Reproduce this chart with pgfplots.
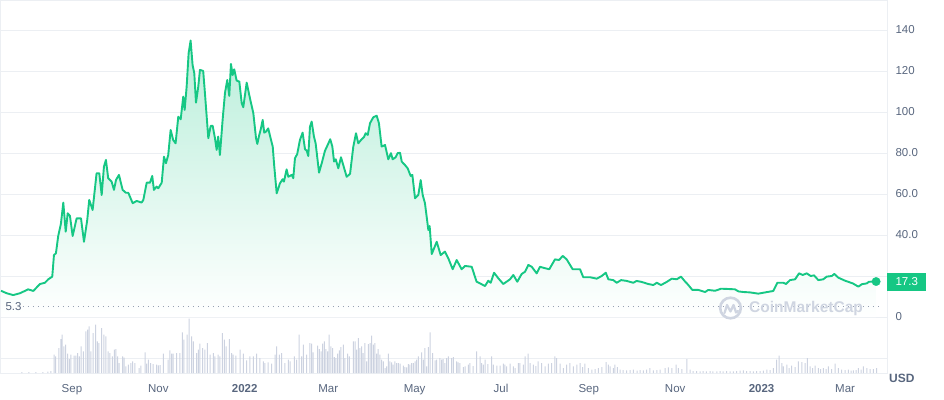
\documentclass[border=0pt]{standalone}
\usepackage{pgfplots}
\usepackage{pgfplotstable}
\pgfplotsset{compat=1.18}
\usepackage{fontspec}
\setmainfont{Liberation Sans}
\definecolor{cmcgreen}{RGB}{22,199,132}
\definecolor{labgray}{RGB}{88,102,126}
\definecolor{gridgray}{RGB}{236,239,243}
\definecolor{volgray}{RGB}{204,210,224}
\definecolor{wmgray}{RGB}{207,213,225}
\definecolor{dotgray}{RGB}{150,160,178}

\pgfplotstableread{
d p
-50.1 12.8
-46.1 11.6
-41.5 10.7
-36.7 11.6
-30.9 13.5
-27.3 12.7
-22.6 16.1
-19.1 16.7
-16.7 18.4
-13.9 19.7
-12.7 30.2
-11.3 31.1
-9.7 39.5
-7.8 45.4
-6.1 55.8
-4.4 41.6
-3.0 50.6
-1.4 49.3
0.5 39.5
3.3 48.1
6.4 48.1
8.5 36.7
10.8 47.3
12.2 57.1
14.6 52.2
17.4 70.1
19.3 70.1
21.0 59.5
22.6 73.3
24.0 76.6
25.6 67.7
28.0 66.0
29.7 62.0
31.1 66.8
33.2 69.3
35.8 62.0
38.1 60.6
39.8 60.6
42.9 55.5
45.7 56.6
49.2 55.8
50.4 57.1
52.8 65.5
55.1 65.5
56.7 68.8
57.9 62.0
59.8 63.6
61.0 62.8
63.4 65.5
65.0 78.2
66.4 75.0
68.0 79.0
69.7 91.2
71.5 86.3
73.2 84.7
75.1 97.7
76.8 96.4
78.6 107.5
79.6 101.0
81.0 112.3
82.4 128.6
83.8 134.8
85.2 122.9
86.4 118.9
87.6 104.5
89.2 112.3
90.4 120.5
92.7 120.0
94.1 107.5
96.3 87.2
98.0 93.2
99.4 93.2
101.0 87.2
102.2 81.5
103.3 88.0
104.5 79.0
106.4 96.1
108.1 109.4
109.7 115.6
111.1 107.8
112.3 123.4
113.5 118.0
114.6 120.8
116.3 115.3
118.2 114.8
119.9 104.2
121.0 102.3
123.4 114.3
125.7 106.7
128.1 99.4
130.0 87.2
130.9 84.4
132.3 88.8
133.5 92.0
134.7 96.1
135.8 89.9
137.0 90.4
138.6 92.0
140.3 87.2
141.8 83.1
142.9 73.3
144.6 60.3
146.9 65.2
148.8 67.2
149.7 66.0
151.6 72.0
152.8 68.4
155.2 69.3
156.3 67.7
157.5 77.4
159.1 79.5
161.0 86.3
162.9 89.9
164.6 81.8
165.8 81.1
166.9 78.5
168.1 92.8
169.3 95.3
170.9 88.0
172.1 84.7
174.5 70.4
176.4 75.0
178.7 81.1
180.6 83.9
182.4 86.7
183.9 83.1
185.1 75.8
186.3 76.9
188.1 72.5
190.0 77.9
191.6 74.1
194.0 68.4
196.4 69.8
198.7 83.1
200.6 89.6
202.2 84.7
204.6 86.7
206.2 87.7
207.4 89.6
208.9 88.8
210.5 94.5
212.8 97.4
215.2 98.2
216.8 94.5
218.7 83.1
221.1 83.9
223.4 76.9
225.3 79.9
226.5 76.9
228.6 77.9
230.0 79.9
231.7 80.1
232.9 75.8
235.2 74.1
237.1 72.5
239.2 68.8
240.4 69.3
242.3 57.9
244.6 59.5
246.3 66.8
247.7 59.5
249.3 55.5
251.7 42.4
252.6 44.4
254.1 30.7
257.6 36.7
260.4 30.2
263.4 31.9
265.8 28.6
268.9 23.3
271.7 27.8
275.2 23.3
277.6 24.9
282.3 24.5
285.8 17.2
288.2 16.4
291.7 15.1
294.0 17.7
295.7 16.7
298.1 21.6
301.1 18.9
304.6 16.1
309.4 18.4
311.7 20.5
314.5 17.2
317.6 21.0
320.0 22.1
322.3 25.4
324.7 24.5
328.2 21.3
330.5 24.5
334.1 23.8
337.1 23.3
341.1 28.1
344.0 27.8
346.6 29.8
349.4 28.1
353.6 23.3
358.8 23.3
361.1 19.4
365.9 19.4
370.6 18.7
374.1 20.0
377.0 21.6
378.8 18.4
382.3 18.0
384.7 16.7
387.8 18.0
391.8 17.6
396.4 16.7
398.8 17.6
402.4 17.1
407.0 16.1
410.6 15.6
413.0 16.7
416.0 15.6
420.0 17.1
423.6 18.7
427.1 18.4
430.1 19.7
432.5 17.7
435.3 15.6
438.1 13.2
442.4 13.2
447.1 12.2
449.4 13.2
454.2 12.8
458.4 13.8
462.4 13.7
468.3 13.5
470.6 12.5
474.1 12.2
478.9 12.0
484.7 11.4
489.5 12.0
495.3 12.7
498.2 16.7
502.4 16.7
504.3 16.1
507.1 18.0
510.7 18.4
513.5 21.3
516.1 20.5
518.9 21.3
521.7 20.0
524.1 20.3
527.1 18.0
530.6 18.4
533.0 19.7
536.6 20.0
538.4 21.0
541.2 19.2
546.0 17.7
551.4 16.4
555.4 14.8
557.8 16.0
561.3 16.4
562.9 17.2
567.9 17.3
}\pricedata

\pgfplotstableread{
d v
-35.3 1
-30.4 1
-25.4 1
-20.5 1
-17.0 1.5
-14.8 2
-12.5 18.3
-11.5 16.7
-9.2 25
-7.8 34
-6.9 38.3
-5.7 26.7
-4.4 28.3
-3.0 19.3
-1.9 14
-0.7 18.3
1.6 17.3
2.8 17.3
4.0 20
5.2 16.7
6.4 26.7
8.0 21.7
9.9 41.7
11.1 43.3
12.2 46.7
13.4 21.7
15.0 40
16.7 48.3
17.9 31.7
19.1 30
21.0 45
22.6 38.3
24.0 36.7
25.6 21.7
26.8 20
28.5 16.7
29.9 23.3
31.1 24
32.3 16.7
33.4 10
35.8 16.7
36.9 15.3
38.1 6.7
39.8 8.3
41.7 10
42.9 11.7
44.5 10
47.5 5
48.7 7.3
51.6 20.7
52.8 9.3
53.9 13.3
55.6 10
57.4 9
59.8 8.3
61.0 7.7
62.2 8
64.5 19.3
68.0 13.3
69.2 22.7
70.4 19.3
71.5 19.3
73.9 20
76.3 20
77.9 40.7
79.1 33.3
81.4 38.3
82.8 54.3
84.5 36.7
85.7 31.7
88.1 20
89.2 23.3
90.4 29.3
92.3 25
93.9 23.3
95.6 30
97.5 18.3
99.8 20
101.0 16.7
103.3 18.3
104.5 16.7
106.2 40
107.6 33.3
108.8 26.7
111.1 34
112.8 20
113.9 18.3
115.8 17.3
118.7 23.3
121.0 19.3
123.4 12.7
125.7 16.7
128.1 16.7
130.5 19.3
132.8 15
135.1 11.7
136.3 10
138.6 10.7
141.0 9.3
143.4 18.3
144.6 26.7
146.4 18.3
148.1 20
150.4 10
152.8 13.3
154.0 11.7
157.0 16.7
158.7 13.3
160.5 38.3
162.2 16.7
163.4 28.3
165.8 18.3
168.1 30
169.3 29.3
170.4 20.7
173.5 27.3
174.7 24
175.9 21.7
177.1 29.3
178.2 31.7
179.4 24
180.6 21.7
181.7 38.3
182.9 26.7
184.1 25
185.3 16
186.3 15
187.7 19.3
188.8 22.7
190.0 26
191.6 28.3
192.8 15
194.7 19.3
195.9 16.7
198.7 31.7
199.9 31.7
201.1 23.3
202.2 35
203.4 25
204.6 26.7
205.7 20
206.9 30
208.1 11.7
209.3 29
210.5 30
211.7 37.3
212.8 28.3
214.0 30
215.2 19.3
216.3 24
217.5 18.3
218.7 13.3
219.9 11.7
221.1 5
222.3 6.7
223.4 19.3
224.6 11.7
225.8 10.7
226.9 8.3
228.1 11.7
229.3 10
230.5 10
231.7 9.3
234.0 7.3
235.2 6
236.4 5.7
237.5 9
238.7 8.3
239.9 10
241.1 10
242.3 11.7
243.5 13.3
244.6 16.7
247.0 20.7
248.1 13.3
249.3 25
250.5 6.7
251.7 26
252.9 40.7
254.8 20
256.4 12.7
257.6 13.3
259.9 15
261.1 13.3
262.2 14
263.4 10
264.6 15
265.8 16.7
268.2 15
269.3 16
271.7 11.7
272.8 10.7
274.0 10
276.4 6
277.6 6.7
279.9 8.3
281.1 10
283.4 7
285.8 21.7
288.2 16.7
289.4 10
290.5 8.3
291.7 13.3
293.8 9
296.4 16.7
297.6 8.3
300.0 7.3
302.3 7.3
304.6 9.3
305.8 8.3
307.0 6.7
309.4 9.3
311.7 6.7
312.9 5
315.2 10
316.4 10
318.8 8.3
320.0 16.7
322.1 19.3
323.5 10
325.8 8.3
327.7 7
329.3 11.7
331.7 10
334.1 6.7
336.4 9.3
338.8 10
341.1 16.7
342.3 15
344.7 9.3
347.0 5
349.4 8.3
351.7 10
354.1 6.7
356.5 8.3
358.8 10
360.6 6
362.3 9.3
364.7 5
367.1 3.3
369.4 4
371.7 5
374.3 6
377.2 11
378.8 8.3
380.0 6.7
382.3 5
383.5 8.3
385.1 6
387.1 3.3
389.2 3
391.8 2.7
394.1 3
396.4 3.3
399.1 2.5
401.2 3
403.5 2.7
405.8 3.5
408.2 5
410.6 2.7
413.0 3
415.3 3.3
418.9 5
421.2 5.7
423.6 5
426.6 8.3
428.2 5
430.8 4
434.2 14
436.5 3.3
438.6 2
441.1 2
443.6 1.7
445.7 2
448.1 1.7
450.6 2
452.7 1.7
455.4 1.7
457.7 2
459.8 1.7
462.3 2
464.8 1.7
467.1 1.7
469.4 2
471.8 2.3
474.2 2.7
476.4 2
478.9 2
481.2 1.7
483.5 2
486.0 2
488.3 2.3
490.7 3.3
493.0 3
495.4 5
497.7 13.3
499.4 17.3
501.3 10
502.4 6.7
504.8 8.3
506.4 5
508.3 7.3
510.7 6
513.0 11.7
515.4 11
517.7 10
519.4 15
521.3 6.7
523.0 5
524.8 7.3
527.1 5
528.7 4
530.7 5
532.6 4
534.2 6.7
536.4 4
538.9 9.3
541.2 5
543.6 3.3
546.0 3
548.3 3.3
550.2 2.5
551.8 2.7
553.7 3
555.4 5
557.3 3.5
558.9 6.7
561.3 5
563.6 4
565.9 4
568.3 5
}\volumedata

\begin{document}
\begin{tikzpicture}[x=1pt,y=1pt]
\useasboundingbox (0,0) rectangle (944,399);
% price axis
\begin{axis}[
  at={(1pt,26pt)}, anchor=south west, scale only axis,
  width=886pt, height=372pt,
  xmin=-50.1, xmax=575.6, ymin=-27.3, ymax=154.1,
  axis line style={draw=gridgray, line width=1pt},
  major tick length=0pt,
  ymajorgrids, grid style={draw=gridgray, line width=0.8pt},
  ytick={-20,0,20,40,60,80,100,120,140},
  yticklabels={,0,,40.0,60.0,80.0,100,120,140},
  yticklabel pos=right,
  yticklabel style={font=\fontsize{11.5}{13}\selectfont, text=labgray, anchor=west, xshift=5pt},
  xtick={0,61,122,181,242,303,365,426,487,546},
  xticklabels={Sep,Nov,\textbf{2022},Mar,May,Jul,Sep,Nov,\textbf{2023},Mar},
  xticklabel style={font=\fontsize{11.5}{13}\selectfont, text=labgray, yshift=-8pt},
  clip=false,
]
\begin{scope}
\clip (axis cs:-50.1,-27.3) rectangle (axis cs:575.6,154.1);
\addplot[draw=none, top color=cmcgreen!30!white, bottom color=white, forget plot] table[x=d,y=p] {\pricedata} \closedcycle;
\end{scope}
\addplot[dotgray, line width=1pt, dash pattern=on 0.9pt off 4.1pt] coordinates {(-34.6,5.3) (570.7,5.3)};
\addplot[cmcgreen, line width=1.9pt, line join=round] table[x=d,y=p] {\pricedata};
\addplot[only marks, mark=*, mark size=4.2pt, mark options={fill=cmcgreen, draw=cmcgreen}] coordinates {(567.9,17.3)};
\node[anchor=west, font=\fontsize{11.5}{13}\selectfont, text=labgray, inner sep=0pt] at (axis cs:-47,5.3) {5.3};
\node[anchor=west, fill=cmcgreen, text=white, font=\fontsize{11.5}{13}\selectfont, minimum width=39pt, minimum height=18pt, inner sep=0pt] at (axis cs:575.6,17.3) {17.3};
\end{axis}
% volume axis
\begin{axis}[
  at={(1pt,26pt)}, anchor=south west, scale only axis,
  width=886pt, height=372pt,
  xmin=-50.1, xmax=575.6, ymin=0, ymax=372,
  hide axis,
]
\addplot[ybar, bar width=1pt, fill=volgray, draw=none] table[x=d,y=v] {\volumedata};
\end{axis}
% watermark
\draw[wmgray, line width=2.6pt] (730.5,91) circle (10.3);
\draw[wmgray, line width=2.2pt, line join=round, line cap=round] (724.5,86) -- (727,94) -- (730.5,87.5) -- (733.5,94) -- (736,86.5) -- (738,88);
\node[anchor=west, text=wmgray, font=\fontsize{15.5}{18}\selectfont\bfseries, inner sep=0pt] at (749,91) {CoinMarketCap};
\node[anchor=west, text=labgray, font=\fontsize{12}{14}\selectfont\bfseries, inner sep=0pt] at (889,21) {USD};
\end{tikzpicture}
\end{document}
